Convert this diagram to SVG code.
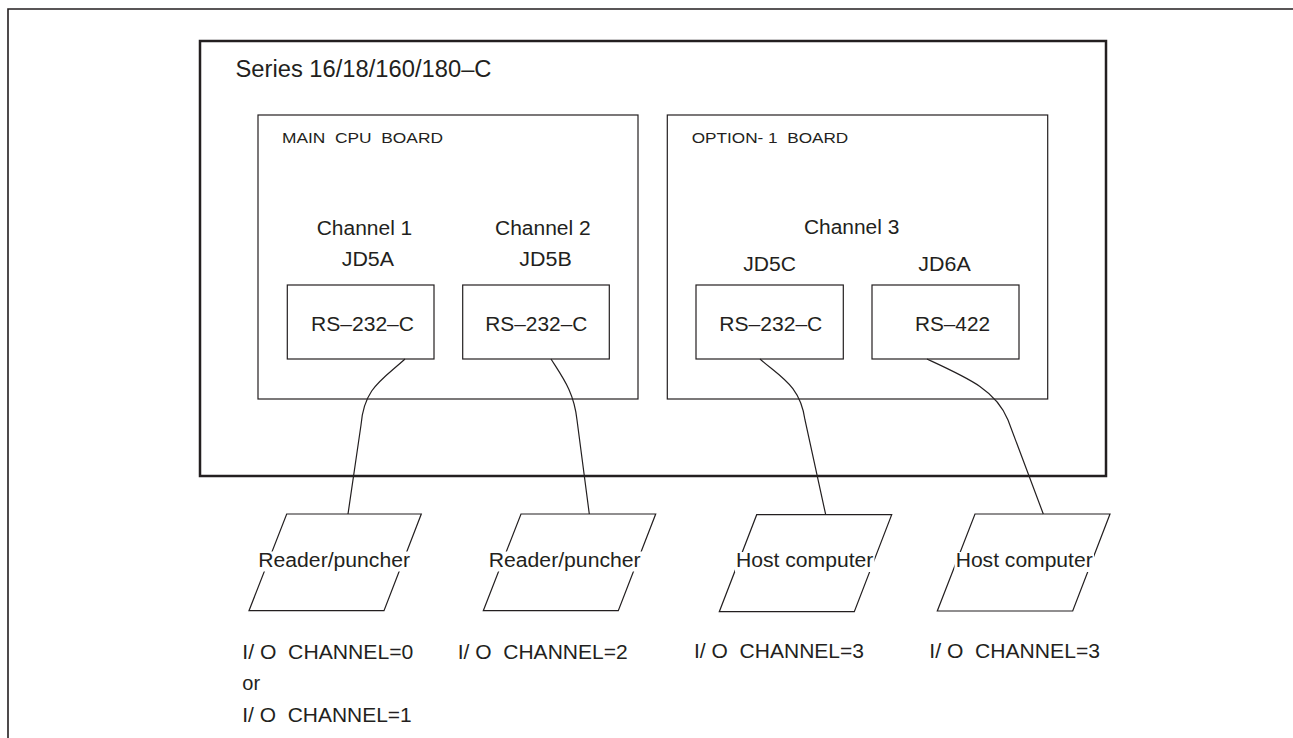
<svg xmlns="http://www.w3.org/2000/svg" width="1293" height="738" viewBox="0 0 1293 738">
<style>
.t{font-family:"Liberation Sans",Arial,sans-serif;fill:#231f20}
.m{font-size:20px}
.c{font-size:19.5px}
.s{font-size:15.5px}
.thin{fill:none;stroke:#231f20;stroke-width:1.2}
.thick{fill:none;stroke:#231f20;stroke-width:2.5}
.bg{fill:#fff}
</style>
<rect width="1293" height="738" fill="#fff"/>
<path d="M8,738 V9 H1293" fill="none" stroke="#231f20" stroke-width="1.6"/>
<g id="system">
<rect class="thick" x="200" y="41" width="906" height="435"/>
<text class="t" x="235.5" y="76.5" font-size="23.5" textLength="256" lengthAdjust="spacingAndGlyphs">Series 16/18/160/180–C</text>
</g>
<g id="main-cpu-board">
<rect class="thin" x="258" y="115" width="380" height="284"/>
<text class="t s" x="282" y="143.3" xml:space="preserve" textLength="161" lengthAdjust="spacingAndGlyphs">MAIN  CPU  BOARD</text>
<text class="t c" x="316.7" y="235" textLength="95.6" lengthAdjust="spacingAndGlyphs">Channel 1</text>
<text class="t c" x="341.7" y="265.5" textLength="52.3" lengthAdjust="spacingAndGlyphs">JD5A</text>
<text class="t c" x="495" y="235" textLength="95.7" lengthAdjust="spacingAndGlyphs">Channel 2</text>
<text class="t c" x="519.3" y="265.5" textLength="52.4" lengthAdjust="spacingAndGlyphs">JD5B</text>
</g>
<g id="port-jd5a">
<rect class="thin" x="287.3" y="285" width="146.7" height="74"/>
<text class="t m" x="311" y="331" textLength="103" lengthAdjust="spacingAndGlyphs">RS–232–C</text>
</g>
<g id="port-jd5b">
<rect class="thin" x="462.7" y="285" width="146.6" height="74"/>
<text class="t m" x="485.3" y="331" textLength="102" lengthAdjust="spacingAndGlyphs">RS–232–C</text>
</g>
<g id="option-1-board">
<rect class="thin" x="667.3" y="115" width="380.4" height="284"/>
<text class="t s" x="691.7" y="143" xml:space="preserve" textLength="156.6" lengthAdjust="spacingAndGlyphs">OPTION- 1  BOARD</text>
<text class="t c" x="804" y="234" textLength="95.3" lengthAdjust="spacingAndGlyphs">Channel 3</text>
<text class="t c" x="743.3" y="271" textLength="52.7" lengthAdjust="spacingAndGlyphs">JD5C</text>
<text class="t c" x="918.3" y="271" textLength="52.4" lengthAdjust="spacingAndGlyphs">JD6A</text>
</g>
<g id="port-jd5c">
<rect class="thin" x="696" y="285" width="147.3" height="74"/>
<text class="t m" x="719.3" y="331" textLength="103" lengthAdjust="spacingAndGlyphs">RS–232–C</text>
</g>
<g id="port-jd6a">
<rect class="thin" x="872" y="285" width="147" height="74"/>
<text class="t m" x="915" y="331" textLength="75" lengthAdjust="spacingAndGlyphs">RS–422</text>
</g>
<g id="connectors">
<path class="thin" d="M405,359 C382,380 364,388 361,425 L348,514"/>
<path class="thin" d="M551,359 C563,378 574,392 577,420 L589.3,514"/>
<path class="thin" d="M760,359 C780,377 800,385 805,420 L825.7,514.7"/>
<path class="thin" d="M927,359 C968,378 996,390 1008,420 L1043.3,514"/>
</g>
<g id="device-1">
<polygon class="thin" points="286.7,514 421.3,514 384,610.7 249,610.7"/>
<rect class="bg" x="257" y="551.5" width="155" height="20"/>
<text class="t m" x="258.3" y="566.7" textLength="151.7" lengthAdjust="spacingAndGlyphs">Reader/puncher</text>
<text class="t m" x="242.3" y="659.3" xml:space="preserve" textLength="171" lengthAdjust="spacingAndGlyphs">I/ O  CHANNEL=0</text>
<text class="t m" x="242.3" y="690">or</text>
<text class="t m" x="242.3" y="721.7" xml:space="preserve" textLength="169.4" lengthAdjust="spacingAndGlyphs">I/ O  CHANNEL=1</text>
</g>
<g id="device-2">
<polygon class="thin" points="521,514 655.7,514 618.3,610.7 483.3,610.7"/>
<rect class="bg" x="487.5" y="551.5" width="154.5" height="20"/>
<text class="t m" x="488.7" y="566.7" textLength="152" lengthAdjust="spacingAndGlyphs">Reader/puncher</text>
<text class="t m" x="457.7" y="659.3" xml:space="preserve" textLength="170" lengthAdjust="spacingAndGlyphs">I/ O  CHANNEL=2</text>
</g>
<g id="device-3">
<polygon class="thin" points="756.7,514.7 891.7,514.7 854.3,611.7 719.3,611.7"/>
<rect class="bg" x="735" y="552" width="139.5" height="20"/>
<text class="t m" x="736" y="567.3" textLength="137.3" lengthAdjust="spacingAndGlyphs">Host computer</text>
<text class="t m" x="694" y="658.3" xml:space="preserve" textLength="170" lengthAdjust="spacingAndGlyphs">I/ O  CHANNEL=3</text>
</g>
<g id="device-4">
<polygon class="thin" points="975,514 1110,514 1072.7,611 937.3,611"/>
<rect class="bg" x="954.5" y="552" width="139.5" height="20"/>
<text class="t m" x="955.7" y="567.3" textLength="137" lengthAdjust="spacingAndGlyphs">Host computer</text>
<text class="t m" x="929.3" y="658.3" xml:space="preserve" textLength="170.7" lengthAdjust="spacingAndGlyphs">I/ O  CHANNEL=3</text>
</g>
</svg>
